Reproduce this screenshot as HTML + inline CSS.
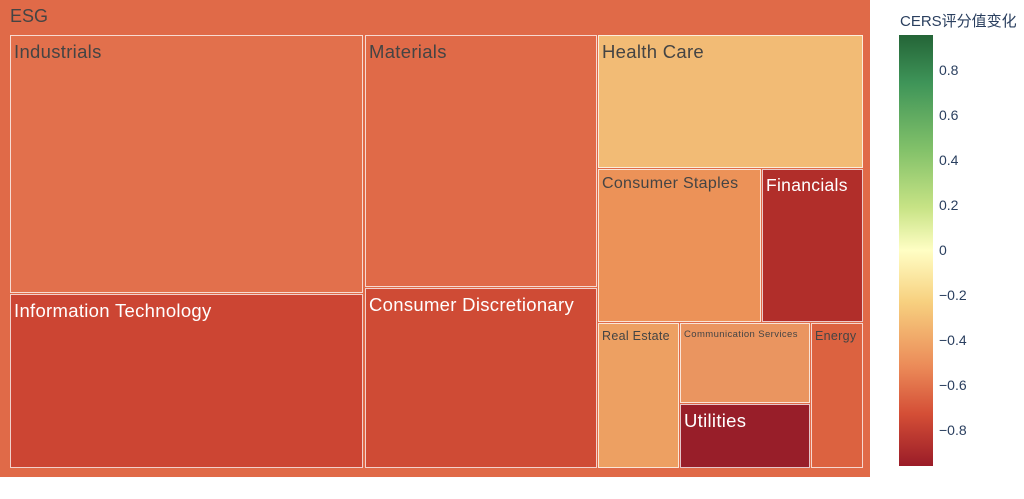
<!DOCTYPE html>
<html><head><meta charset="utf-8"><style>
body{margin:0;width:1024px;height:499px;background:#fff;font-family:"Liberation Sans","Noto Sans CJK SC",sans-serif;position:relative;overflow:hidden}
.r{position:absolute;box-sizing:border-box;border:1.5px solid rgba(255,255,255,0.75);color:#444;padding:5px 3px;white-space:nowrap;overflow:hidden;letter-spacing:0.3px}
.w{color:#fff}
.t{position:absolute;left:939px;font-size:14px;color:#2a3f5f}
</style></head><body>
<div style="position:absolute;left:0;top:0;width:870px;height:477px;background:#e06a48"></div>
<div style="position:absolute;left:10px;top:6px;font-size:18px;color:#444">ESG</div>
<div class="r" style="left:10px;top:35px;width:353px;height:258px;background:#e2704c;font-size:18.5px">Industrials</div>
<div class="r w" style="left:10px;top:294px;width:353px;height:174px;background:#cc4533;font-size:18.5px">Information Technology</div>
<div class="r" style="left:365px;top:35px;width:232px;height:252px;background:#e06a48;font-size:18.5px">Materials</div>
<div class="r w" style="left:365px;top:288px;width:232px;height:180px;background:#cf4b35;font-size:18.5px">Consumer Discretionary</div>
<div class="r" style="left:598px;top:35px;width:265px;height:133px;background:#f2bb75;font-size:18.5px">Health Care</div>
<div class="r" style="left:598px;top:169px;width:163px;height:153px;background:#ec9258;font-size:16px">Consumer Staples</div>
<div class="r w" style="left:762px;top:169px;width:101px;height:153px;background:#b12e2a;font-size:17.5px">Financials</div>
<div class="r" style="left:598px;top:323px;width:81px;height:145px;background:#eda062;font-size:12.5px">Real Estate</div>
<div class="r" style="left:680px;top:323px;width:130px;height:80px;background:#ea9560;font-size:9.5px;padding-top:5px;letter-spacing:0.4px">Communication Services</div>
<div class="r w" style="left:680px;top:404px;width:130px;height:64px;background:#981e29;font-size:18.5px">Utilities</div>
<div class="r" style="left:811px;top:323px;width:52px;height:145px;background:#dc6240;font-size:12.5px">Energy</div>
<div style="position:absolute;left:900px;top:10px;font-size:15px;color:#2a3f5f">CERS评分值变化</div>
<div style="position:absolute;left:899px;top:35px;width:34px;height:431px;background:linear-gradient(to bottom,#246437 0%,#3e9458 11%,#84c26a 27%,#c7e385 40%,#fffec4 50%,#f7d07f 62%,#eb8a58 77%,#d44e36 88%,#9a1c28 100%)"></div>
<div class="t" style="top:62px">0.8</div>
<div class="t" style="top:107px">0.6</div>
<div class="t" style="top:152px">0.4</div>
<div class="t" style="top:197px">0.2</div>
<div class="t" style="top:242px">0</div>
<div class="t" style="top:287px">−0.2</div>
<div class="t" style="top:332px">−0.4</div>
<div class="t" style="top:377px">−0.6</div>
<div class="t" style="top:422px">−0.8</div>
</body></html>
